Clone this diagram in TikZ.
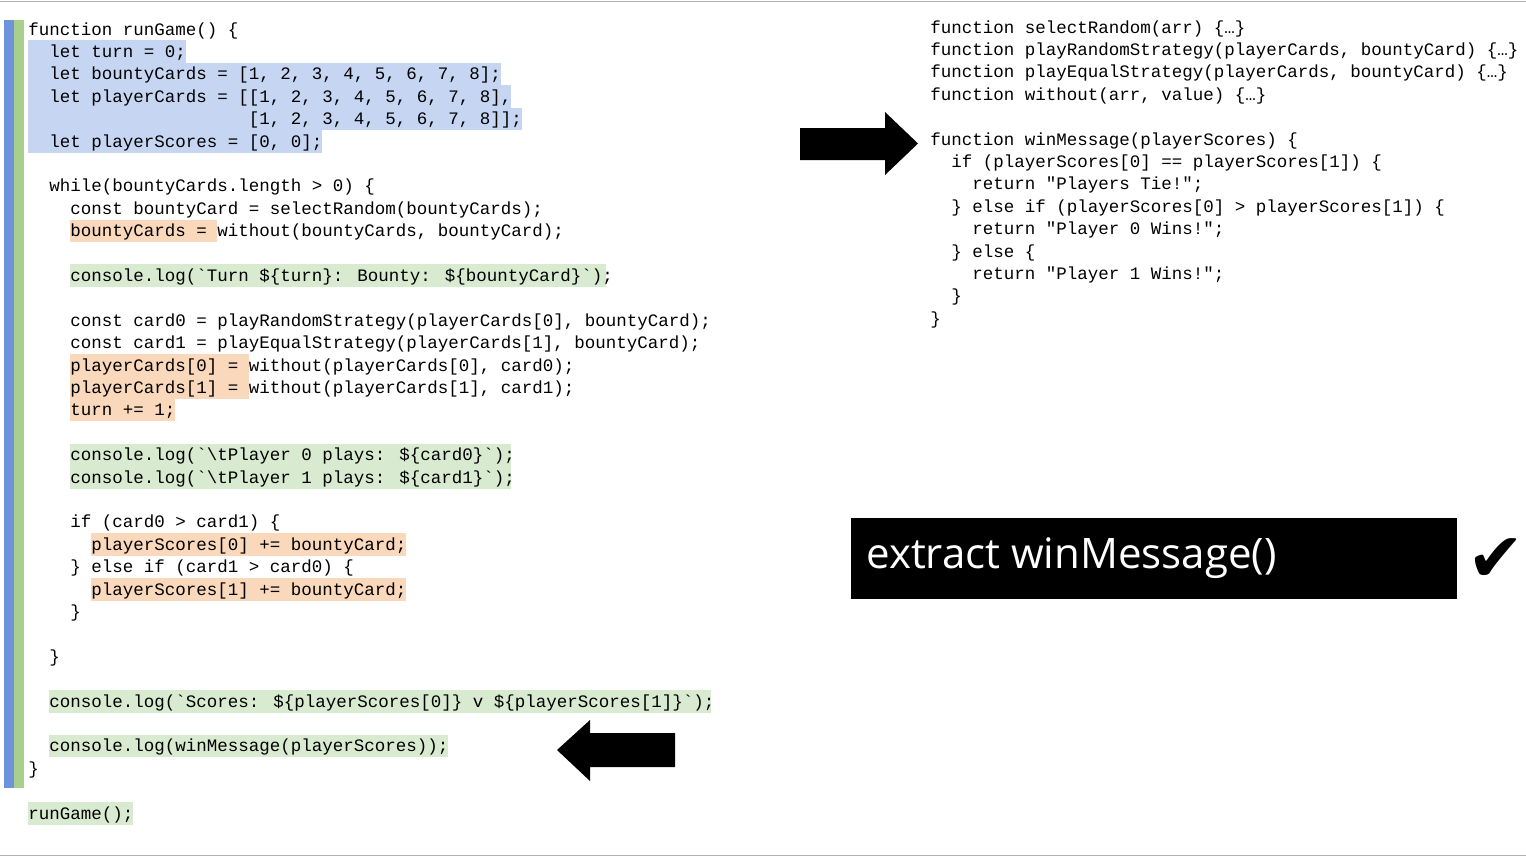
\documentclass[tikz,border=0pt]{standalone}
\usepackage{fontspec}
\newfontfamily\codefont{Liberation Mono}
\newfontfamily\boxfont{Open Sans}
\newfontfamily\symfont{DejaVu Sans}
\definecolor{hlblue}{HTML}{C6D6F2}
\definecolor{hlorange}{HTML}{FAD8BC}
\definecolor{hlgreen}{HTML}{D8EAD0}
\definecolor{barblue}{HTML}{6E92DC}
\definecolor{bargreen}{HTML}{A8D08C}
% one line of code: line number, column, text
\newcommand{\cl}[4][28]{\node[code] (c#2x#3) at ({#1+#3*10.5},{35+#2*22.4}) {#4};}
\newcommand{\rl}[3]{\node[code] (r#1) at ({930+#2*10.5},{33+#1*22.4}) {#3};}
% highlight: style, line, first column, last column
\newcommand{\hl}[4]{\fill[#1] ({28+#3*10.5},{18+#2*22.4}) rectangle ({28+#4*10.5},{40.5+#2*22.4});}

\begin{document}
\begin{tikzpicture}[x=0.5pt,y=-0.5pt,
  code/.style={anchor=base west,inner sep=0pt,font=\codefont\fontsize{8.75pt}{10pt}\selectfont},
  bigarrow/.style={fill=black}]
\useasboundingbox (0,0) rectangle (1526,857);
\draw[gray!60] (0,1) -- (1526,1);
\draw[gray!60] (0,855) -- (1526,855);
% margin bars
\fill[barblue] (4,20) rectangle (14,788);
\fill[bargreen] (14,20) rectangle (24,788);
% highlights
\hl{hlblue}{1}{0}{15}
\hl{hlblue}{2}{0}{45}
\hl{hlblue}{3}{0}{46}
\hl{hlblue}{4}{0}{47}
\hl{hlblue}{5}{0}{28}
\hl{hlorange}{9}{4}{18}
\hl{hlgreen}{11}{4}{55}
\hl{hlorange}{15}{4}{21}
\hl{hlorange}{16}{4}{21}
\hl{hlorange}{17}{4}{14}
\hl{hlgreen}{19}{4}{46}
\hl{hlgreen}{20}{4}{46}
\hl{hlorange}{23}{6}{36}
\hl{hlorange}{25}{6}{36}
\hl{hlgreen}{30}{2}{65}
\hl{hlgreen}{32}{2}{40}
\hl{hlgreen}{35}{0}{10}
% left code
\cl{0}{0}{function runGame() \{}
\cl{1}{2}{let turn = 0;}
\cl{2}{2}{let bountyCards = [1, 2, 3, 4, 5, 6, 7, 8];}
\cl{3}{2}{let playerCards = [[1, 2, 3, 4, 5, 6, 7, 8],}
\cl{4}{21}{[1, 2, 3, 4, 5, 6, 7, 8]];}
\cl{5}{2}{let playerScores = [0, 0];}
\cl{7}{2}{while(bountyCards.length > 0) \{}
\cl{8}{4}{const bountyCard = selectRandom(bountyCards);}
\cl{9}{4}{bountyCards = without(bountyCards, bountyCard);}
\cl{11}{4}{console.log(`Turn \$\{turn\}: Bounty: \$\{bountyCard\}`);}
\cl{13}{4}{const card0 = playRandomStrategy(playerCards[0], bountyCard);}
\cl{14}{4}{const card1 = playEqualStrategy(playerCards[1], bountyCard);}
\cl{15}{4}{playerCards[0] = without(playerCards[0], card0);}
\cl{16}{4}{playerCards[1] = without(playerCards[1], card1);}
\cl{17}{4}{turn += 1;}
\cl{19}{4}{console.log(`\textbackslash tPlayer 0 plays: \$\{card0\}`);}
\cl{20}{4}{console.log(`\textbackslash tPlayer 1 plays: \$\{card1\}`);}
\cl{22}{4}{if (card0 > card1) \{}
\cl{23}{6}{playerScores[0] += bountyCard;}
\cl{24}{4}{\} else if (card1 > card0) \{}
\cl{25}{6}{playerScores[1] += bountyCard;}
\cl{26}{4}{\}}
\cl{28}{2}{\}}
\cl{30}{2}{console.log(`Scores: \$\{playerScores[0]\} v \$\{playerScores[1]\}`);}
\cl{32}{2}{console.log(winMessage(playerScores));}
\cl{33}{0}{\}}
\cl{35}{0}{runGame();}
% right code
\rl{0}{0}{function selectRandom(arr) \{…\}}
\rl{1}{0}{function playRandomStrategy(playerCards, bountyCard) \{…\}}
\rl{2}{0}{function playEqualStrategy(playerCards, bountyCard) \{…\}}
\rl{3}{0}{function without(arr, value) \{…\}}
\rl{5}{0}{function winMessage(playerScores) \{}
\rl{6}{2}{if (playerScores[0] == playerScores[1]) \{}
\rl{7}{4}{return "Players Tie!";}
\rl{8}{2}{\} else if (playerScores[0] > playerScores[1]) \{}
\rl{9}{4}{return "Player 0 Wins!";}
\rl{10}{2}{\} else \{}
\rl{11}{4}{return "Player 1 Wins!";}
\rl{12}{2}{\}}
\rl{13}{0}{\}}
% arrows
\fill[bigarrow] (800,128) -- (885,128) -- (885,112) -- (918,143.5) -- (885,175) -- (885,160) -- (800,160) -- cycle;
\fill[bigarrow] (675,733) -- (590,733) -- (590,720) -- (557,750) -- (590,781) -- (590,767) -- (675,767) -- cycle;
% caption box
\fill[black] (851,518) rectangle (1457,599);
\node[anchor=west,inner sep=0pt,text=white,font=\boxfont\fontsize{21pt}{24pt}\selectfont] (caption) at (866,558) {extract winMessage()};
\node[inner sep=0pt,font=\symfont\fontsize{34pt}{36pt}\selectfont] (tick) at (1496,560) {✔};
\end{tikzpicture}
\end{document}
